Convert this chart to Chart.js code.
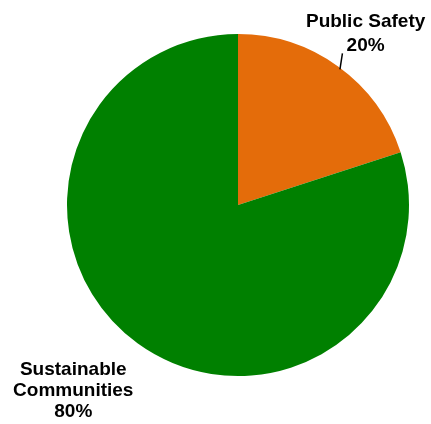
<!DOCTYPE html>
<html lang="en">
<head>
    <meta charset="UTF-8">
    <title>Public Safety vs Sustainable Communities</title>
    <script src="https://cdn.jsdelivr.net/npm/chart.js"></script>
    <style>
        body{
            margin: 0;
            background: #fff;
        }
        #wrap{
            width: 431px;
            height: 424px;
        }
    </style>
</head>
<body>
<div id="wrap">
    <canvas id="grafica" width="431" height="424"></canvas>
</div>

<script>
    // datos
    const categorias = [['Public', 'Safety'], ['Sustainable', 'Communities']];
    const valores = [20, 80];
    const colores = ['#E46C0A', '#008000'];

    // etiquetas: distancia radial (en radios) y ajuste fino
    const etiquetaDist = [1.2, 1.45];
    const etiquetaAjuste = [[7, 7], [-19, -15]];

    const etiquetas = {
        id: 'etiquetas',
        afterDraw(chart) {
            const ctx = chart.ctx;
            const meta = chart.getDatasetMeta(0);
            const total = valores.reduce((a, b) => a + b, 0);
            ctx.save();
            ctx.font = 'bold 19px "Liberation Sans", Arial, sans-serif';
            ctx.fillStyle = '#000';
            ctx.textAlign = 'center';
            ctx.textBaseline = 'middle';
            meta.data.forEach((arc, i) => {
                const mid = (arc.startAngle + arc.endAngle) / 2;
                const r = arc.outerRadius;
                const cx = arc.x, cy = arc.y;
                const pct = Math.round(valores[i] / total * 100) + '%';
                let lineas;
                let x, y, paso;
                if (i === 0) {
                    // linea guia
                    const x0 = cx + Math.cos(mid) * (r - 1) + 2;
                    const y0 = cy + Math.sin(mid) * (r - 1) + 2;
                    ctx.strokeStyle = '#000';
                    ctx.lineWidth = 1.5;
                    ctx.beginPath();
                    ctx.moveTo(x0, y0);
                    ctx.lineTo(x0 + 2.5, y0 - 16);
                    ctx.stroke();
                    lineas = [categorias[i].join(' '), pct];
                    x = cx + Math.cos(mid) * r * etiquetaDist[i] + etiquetaAjuste[i][0];
                    y = cy + Math.sin(mid) * r * etiquetaDist[i] + etiquetaAjuste[i][1];
                    paso = 24.5;
                    // anclar la ultima linea (porcentaje)
                    lineas.forEach((t, k) => {
                        ctx.fillText(t, x, y - (lineas.length - 1 - k) * paso);
                    });
                } else {
                    lineas = [categorias[i][0], categorias[i][1], pct];
                    x = cx + Math.cos(mid) * r * etiquetaDist[i] + etiquetaAjuste[i][0];
                    y = cy + Math.sin(mid) * r * etiquetaDist[i] + etiquetaAjuste[i][1];
                    paso = 21;
                    lineas.forEach((t, k) => {
                        ctx.fillText(t, x, y + (k - 1) * paso);
                    });
                }
            });
            ctx.restore();
        }
    };

    const config = {
        type: 'pie',
        data: {
            labels: categorias.map(c => c.join(' ')),
            datasets: [{
                data: valores,
                backgroundColor: colores,
                borderWidth: 0
            }]
        },
        options: {
            responsive: false,
            animation: false,
            layout: {
                padding: { top: 34, bottom: 48, left: 67, right: 22 }
            },
            plugins: {
                legend: { display: false },
                tooltip: { enabled: false }
            }
        },
        plugins: [etiquetas]
    };

    new Chart(document.getElementById('grafica').getContext('2d'), config);
</script>
</body>
</html>
